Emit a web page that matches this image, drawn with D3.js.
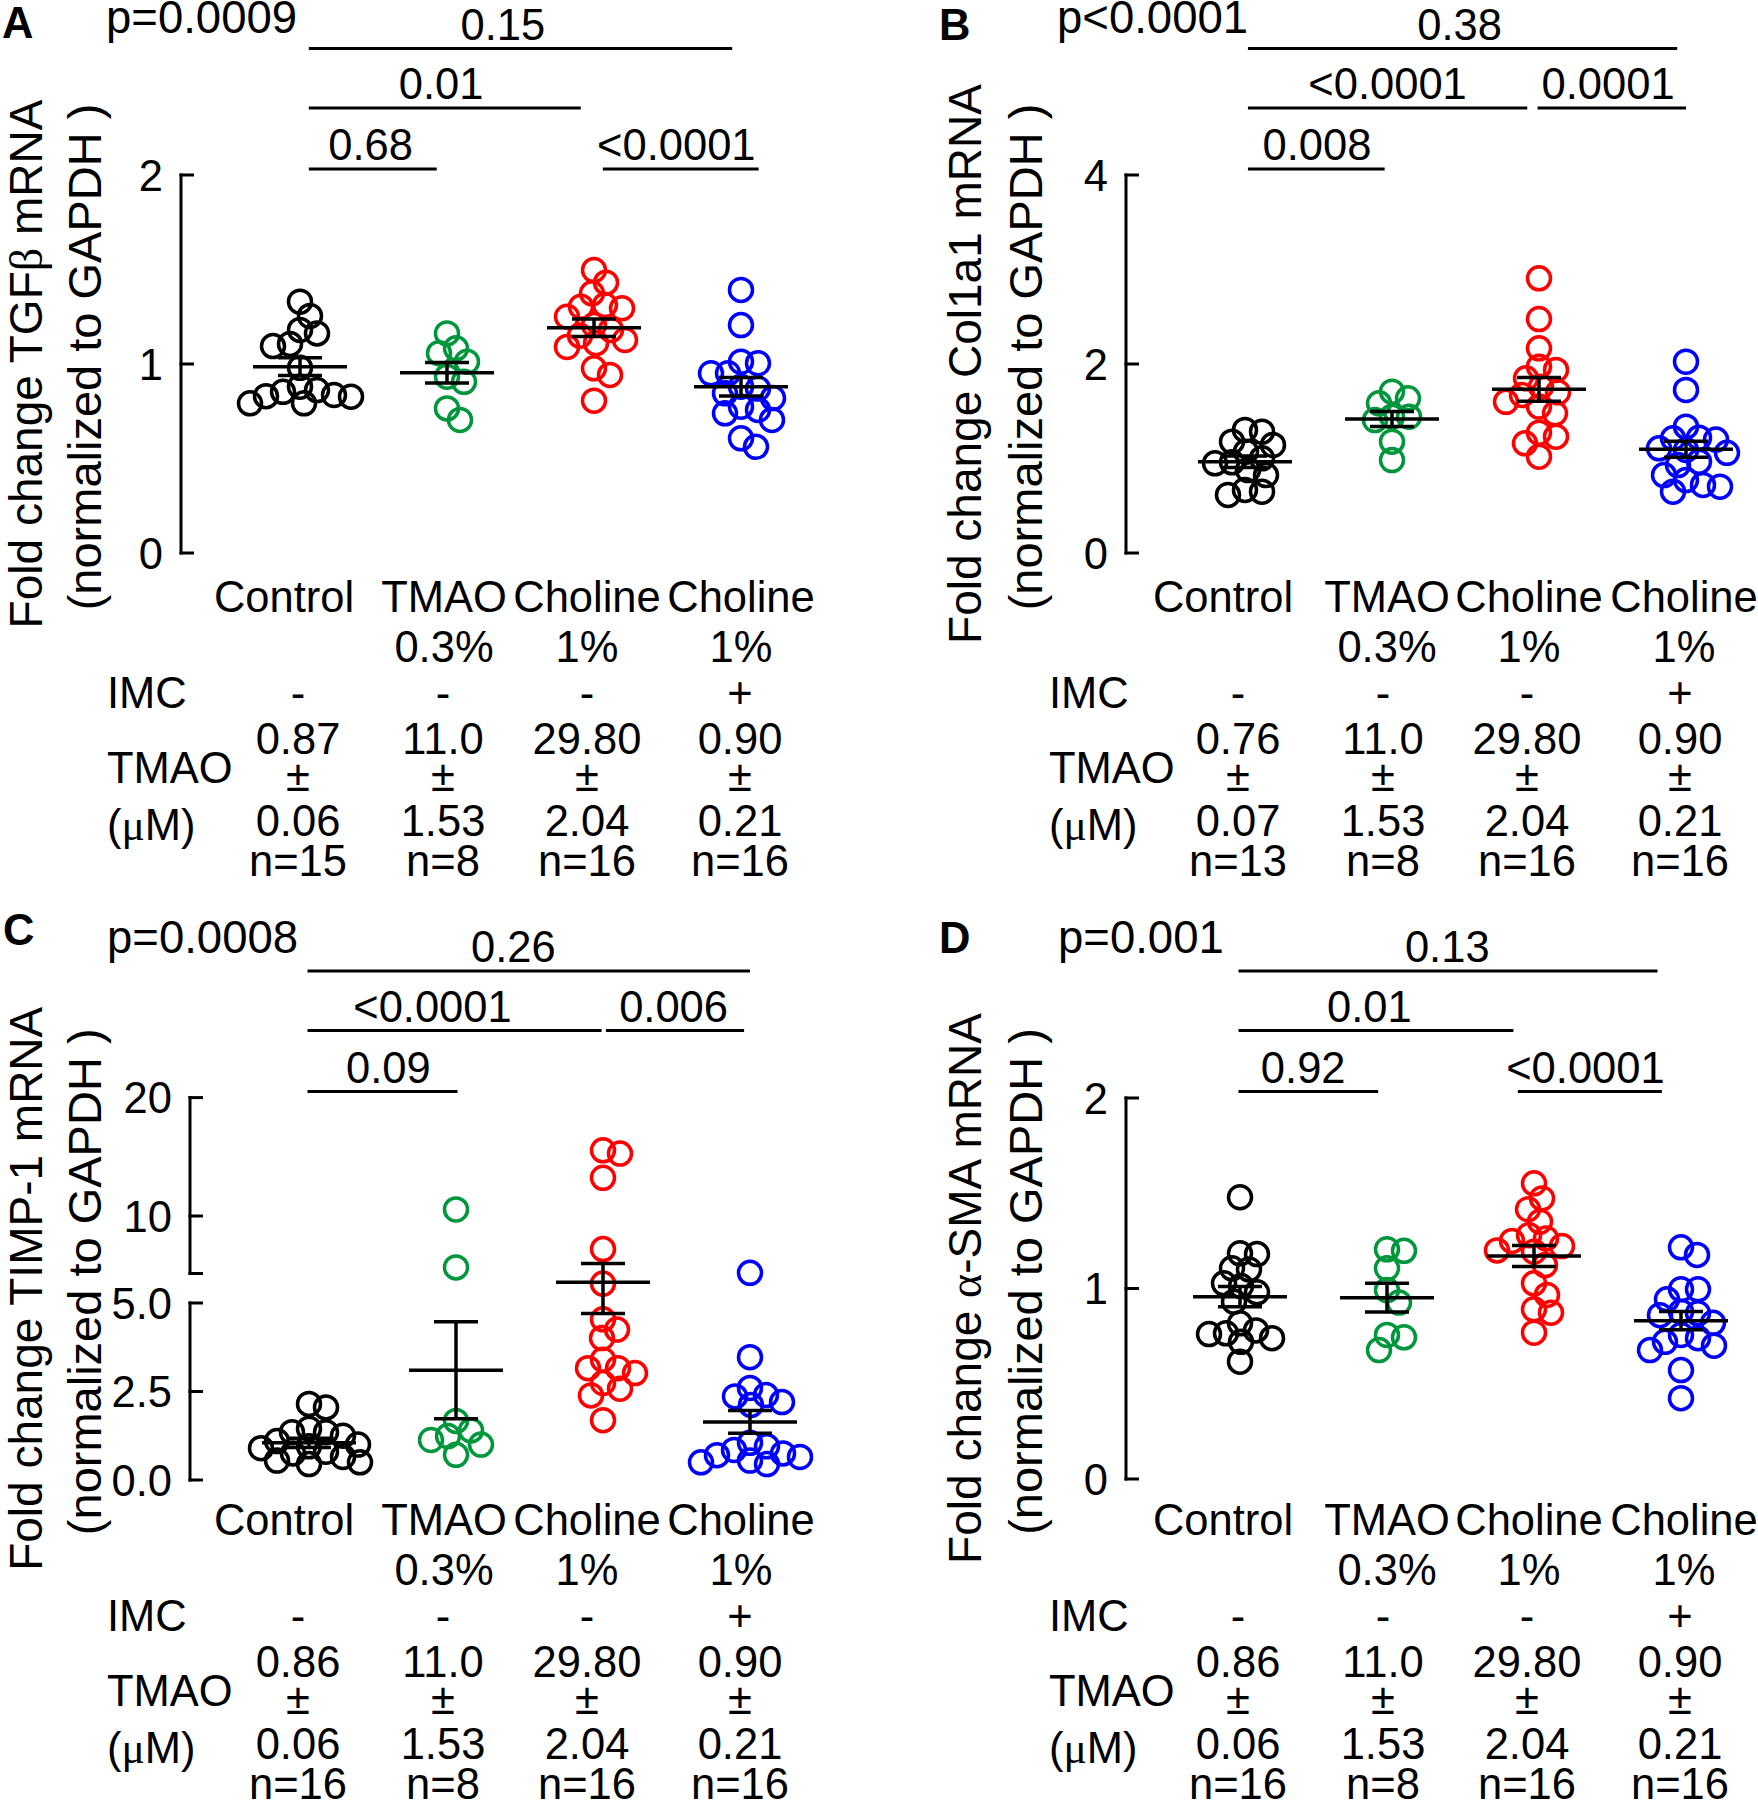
<!DOCTYPE html>
<html>
<head>
<meta charset="utf-8">
<script src="https://cdn.jsdelivr.net/npm/d3@7"></script>
<style>
  body { margin: 0; background: #fff; }
  svg text { font-family: "Liberation Sans", Arial, Helvetica, sans-serif; fill: #000; }
</style>
</head>
<body>
<div id="chart"></div>
<script>
// groups and table rows
const groups = ["Control", "TMAO", "Choline", "Choline"];
const doses = ["", "0.3%", "1%", "1%"];
const imc = ["-", "-", "-", "+"];
const colors = ["#000000", "#00963c", "#ff0000", "#0000ff"];

// A - TGFb
const tgfbValues = [
  [1.33, 1.254, 1.18, 1.162, 1.106, 1.095, 0.98, 0.862, 0.836, 0.792, 0.792, 0.827, 0.853, 0.88, 0.83],
  [1.162, 1.083, 1.057, 1.012, 0.933, 0.906, 0.765, 0.704],
  [1.497, 1.43, 1.374, 1.303, 1.295, 1.312, 1.25, 1.206, 1.18, 1.11, 1.09, 1.127, 0.977, 0.942, 0.806, 1.15],
  [1.392, 1.206, 1.004, 1.012, 0.951, 0.951, 0.88, 0.845, 0.87, 0.757, 0.739, 0.704, 0.774, 0.607, 0.562, 0.82]
];
const tgfbMean = [0.986, 0.954, 1.192, 0.88];
const tgfbSem = [0.047, 0.054, 0.046, 0.049];
const tgfbTmao = ["0.87", "11.0", "29.80", "0.90"];
const tgfbTmaoSem = ["0.06", "1.53", "2.04", "0.21"];
const tgfbN = [15, 8, 16, 16];
// from/to = group positions of the bracket ends, at = group position of the label
const tgfbBrackets = [
  { from: 0.06, to: 2.94, at: 1.38, level: 0, label: "0.15" },
  { from: 0.06, to: 1.91, at: 0.96, level: 1, label: "0.01" },
  { from: 0.06, to: 0.93, at: 0.48, level: 2, label: "0.68" },
  { from: 2.06, to: 3.12, at: 2.56, level: 2, label: "<0.0001" }
];

// B - Col1a1
const col1a1Values = [
  [1.302, 1.284, 1.178, 1.143, 1.072, 1.002, 0.949, 0.96, 0.878, 0.825, 0.667, 0.649, 0.614],
  [1.707, 1.584, 1.637, 1.442, 1.442, 1.178, 0.984, 1.407],
  [2.907, 2.476, 2.166, 1.972, 1.937, 1.848, 1.76, 1.70, 1.672, 1.55, 1.478, 1.231, 1.273, 1.161, 1.019, 1.6],
  [2.024, 1.725, 1.337, 1.213, 1.2, 1.22, 1.09, 1.06, 1.108, 0.966, 0.931, 0.825, 0.772, 0.702, 0.649, 0.72]
];
const col1a1Mean = [0.966, 1.418, 1.732, 1.097];
const col1a1Sem = [0.06, 0.079, 0.125, 0.085];
const col1a1Tmao = ["0.76", "11.0", "29.80", "0.90"];
const col1a1TmaoSem = ["0.07", "1.53", "2.04", "0.21"];
const col1a1N = [13, 8, 16, 16];
const col1a1Brackets = [
  { from: 0.02, to: 2.94, at: 1.46, level: 0, label: "0.38" },
  { from: 0.02, to: 1.92, at: 0.97, level: 1, label: "<0.0001" },
  { from: 1.99, to: 3.0, at: 2.47, level: 1, label: "0.0001" },
  { from: 0.02, to: 0.95, at: 0.49, level: 2, label: "0.008" }
];

// C - TIMP-1 (broken axis)
const timp1Values = [
  [2.15, 2.05, 1.45, 1.35, 1.35, 1.25, 1.1, 1.0, 0.95, 0.9, 0.8, 0.75, 0.65, 0.55, 0.5, 0.45],
  [10.55, 6.42, 1.67, 1.13, 1.0, 1.24, 0.71, 1.4],
  [15.27, 15.55, 13.23, 7.7, 5.66, 4.54, 4.25, 4.01, 3.40, 3.16, 3.16, 3.02, 2.74, 2.58, 2.39, 1.69],
  [6.05, 3.47, 2.6, 2.4, 2.36, 2.2, 2.12, 1.05, 0.95, 0.85, 0.75, 0.7, 0.65, 0.55, 0.5, 0.45]
];
const timp1Mean = [1.05, 3.1, 5.7, 1.64];
const timp1Sem = [0.13, 1.37, 1.0, 0.32];
const timp1Tmao = ["0.86", "11.0", "29.80", "0.90"];
const timp1TmaoSem = ["0.06", "1.53", "2.04", "0.21"];
const timp1N = [16, 8, 16, 16];
const timp1Brackets = [
  { from: -0.01, to: 3.0, at: 1.39, level: 0, label: "0.26" },
  { from: -0.01, to: 1.99, at: 0.84, level: 1, label: "<0.0001" },
  { from: 2.02, to: 2.96, at: 2.48, level: 1, label: "0.006" },
  { from: -0.01, to: 1.01, at: 0.54, level: 2, label: "0.09" }
];

// D - a-SMA
const asmaValues = [
  [1.479, 1.185, 1.181, 1.106, 1.027, 1.013, 1.1, 0.98, 0.931, 0.817, 0.78, 0.765, 0.739, 0.761, 0.616, 0.72],
  [1.198, 1.206, 1.106, 0.992, 0.926, 0.756, 0.744, 0.677],
  [1.552, 1.473, 1.416, 1.351, 1.263, 1.223, 1.193, 1.25, 1.28, 1.123, 1.027, 0.966, 0.891, 0.873, 0.768, 1.2],
  [1.216, 1.176, 0.996, 0.996, 0.943, 0.878, 0.87, 0.86, 0.82, 0.756, 0.739, 0.72, 0.677, 0.572, 0.424, 0.7]
];
const asmaMean = [0.957, 0.952, 1.171, 0.831];
const asmaSem = [0.053, 0.075, 0.055, 0.048];
const asmaTmao = ["0.86", "11.0", "29.80", "0.90"];
const asmaTmaoSem = ["0.06", "1.53", "2.04", "0.21"];
const asmaN = [16, 8, 16, 16];
const asmaBrackets = [
  { from: -0.01, to: 2.84, at: 1.41, level: 0, label: "0.13" },
  { from: -0.01, to: 1.86, at: 0.88, level: 1, label: "0.01" },
  { from: -0.01, to: 0.94, at: 0.43, level: 2, label: "0.92" },
  { from: 1.89, to: 2.87, at: 2.35, level: 2, label: "<0.0001" }
];

const SERIF = "'Liberation Serif', 'DejaVu Serif', serif";
const FS = 43.5;

const svg = d3.select("#chart")
  .append("svg")
  .attr("width", 1758)
  .attr("height", 1800);

// layout of the two columns of the figure
const sides = {
  left: { tableX: [298, 443, 587, 740], labelX: [284, 444, 587, 741], rowLabelX: 107, titleX: [42, 101] },
  right: { tableX: [1238, 1383, 1527, 1680], labelX: [1223, 1387, 1529, 1684], rowLabelX: 1049, titleX: [981, 1042] }
};

const panels = [
  {
    letter: "A", letterPos: [2, 38], pText: "p=0.0009", pPos: [106, 33], side: "left", dy: 0,
    title: [["Fold change TGF"], ["β", true], [" mRNA"]],
    values: tgfbValues, mean: tgfbMean, sem: tgfbSem, brackets: tgfbBrackets,
    tmao: tgfbTmao, tmaoSem: tgfbTmaoSem, n: tgfbN,
    axisX: 181, catX0: 300,
    y: d3.scaleLinear().domain([0, 2]).range([553, 175]),
    segments: [[0, 2]], ticks: [0, 1, 2], minor: [], fmt: d3.format("d")
  },
  {
    letter: "B", letterPos: [939, 40], pText: "p<0.0001", pPos: [1057, 33], side: "right", dy: 0,
    title: [["Fold change Col1a1 mRNA"]],
    values: col1a1Values, mean: col1a1Mean, sem: col1a1Sem, brackets: col1a1Brackets,
    tmao: col1a1Tmao, tmaoSem: col1a1TmaoSem, n: col1a1N,
    axisX: 1126, catX0: 1245,
    y: d3.scaleLinear().domain([0, 4]).range([553, 175]),
    segments: [[0, 4]], ticks: [0, 2, 4], minor: [], fmt: d3.format("d")
  },
  {
    letter: "C", letterPos: [3, 945], pText: "p=0.0008", pPos: [107, 953], side: "left", dy: 922.5,
    title: [["Fold change TIMP-1 mRNA"]],
    values: timp1Values, mean: timp1Mean, sem: timp1Sem, brackets: timp1Brackets,
    tmao: timp1Tmao, tmaoSem: timp1TmaoSem, n: timp1N,
    axisX: 190, catX0: 309,
    y: d3.scaleLinear().domain([0, 5, 6, 10, 20]).range([1480, 1303, 1273.5, 1216, 1097.6]),
    segments: [[0, 5], [6, 20]], ticks: [0, 2.5, 5, 10, 20], minor: [6],
    fmt: d => d < 10 ? d3.format(".1f")(d) : d3.format("d")(d)
  },
  {
    letter: "D", letterPos: [939, 953], pText: "p=0.001", pPos: [1058, 953], side: "right", dy: 922.5,
    title: [["Fold change "], ["α", true], ["-SMA mRNA"]],
    values: asmaValues, mean: asmaMean, sem: asmaSem, brackets: asmaBrackets,
    tmao: asmaTmao, tmaoSem: asmaTmaoSem, n: asmaN,
    axisX: 1126, catX0: 1240,
    y: d3.scaleLinear().domain([0, 2]).range([1479, 1098]),
    segments: [[0, 2]], ticks: [0, 1, 2], minor: [], fmt: d3.format("d")
  }
];

// deterministic beeswarm: closest free horizontal offset for each point
function swarm(vals, y, minDist) {
  const placed = [];
  const out = new Array(vals.length);
  const order = d3.range(vals.length).sort((a, b) => d3.descending(vals[a], vals[b]));
  for (const i of order) {
    const py = y(vals[i]);
    let dx = 0;
    for (let k = 0; k < 400; k++) {
      const c = (k % 2 ? 1 : -1) * Math.ceil(k / 2);
      if (placed.every(p => (p.x - c) ** 2 + (p.y - py) ** 2 >= minDist * minDist)) { dx = c; break; }
    }
    placed.push({ x: dx, y: py });
    out[i] = dx;
  }
  return out;
}

const bracketY = [48.5, 108, 169];

panels.forEach(p => {
  const side = sides[p.side];
  const g = svg.append("g");
  const x = d3.scaleLinear().domain([0, 3]).range([p.catX0, p.catX0 + 3 * 147]);
  const yr = p.y.range();
  const yMid = (yr[0] + yr[yr.length - 1]) / 2;

  // panel letter and overall p
  g.append("text").attr("x", p.letterPos[0]).attr("y", p.letterPos[1])
    .attr("font-size", FS).attr("font-weight", "bold").text(p.letter);
  g.append("text").attr("x", p.pPos[0]).attr("y", p.pPos[1])
    .attr("font-size", 45.5).text(p.pText);

  // comparison brackets
  p.brackets.forEach(b => {
    const ly = bracketY[b.level] + p.dy;
    g.append("line")
      .attr("x1", x(b.from)).attr("x2", x(b.to))
      .attr("y1", ly).attr("y2", ly)
      .attr("stroke", "#000").attr("stroke-width", 3.2);
    g.append("text")
      .attr("x", x(b.at)).attr("y", ly - 9)
      .attr("font-size", FS).attr("text-anchor", "middle").text(b.label);
  });

  // y axis (ticks point inward, may be broken)
  p.segments.forEach(s => {
    g.append("line")
      .attr("x1", p.axisX).attr("x2", p.axisX)
      .attr("y1", p.y(s[0]) + 1.5).attr("y2", p.y(s[1]) - 1.5)
      .attr("stroke", "#000").attr("stroke-width", 3);
  });
  p.ticks.concat(p.minor).forEach(t => {
    g.append("line")
      .attr("x1", p.axisX - 1.5).attr("x2", p.axisX + 13)
      .attr("y1", p.y(t)).attr("y2", p.y(t))
      .attr("stroke", "#000").attr("stroke-width", 3);
  });
  p.ticks.forEach(t => {
    g.append("text")
      .attr("x", p.axisX - 18).attr("y", p.y(t)).attr("dy", "0.36em")
      .attr("font-size", FS).attr("text-anchor", "end").text(p.fmt(t));
  });

  // axis title, two lines rotated
  const t1 = g.append("text")
    .attr("transform", `translate(${side.titleX[0]},${yMid}) rotate(-90)`)
    .attr("font-size", 46).attr("text-anchor", "middle");
  p.title.forEach(part => {
    const ts = t1.append("tspan").text(part[0]);
    if (part[1]) ts.style("font-family", SERIF);
  });
  g.append("text")
    .attr("transform", `translate(${side.titleX[1]},${yMid - 7}) rotate(-90)`)
    .attr("font-size", 47).attr("text-anchor", "middle")
    .text("(normalized to GAPDH )");

  // points
  p.values.forEach((vals, gi) => {
    const offs = swarm(vals, p.y, 17);
    g.append("g").selectAll("circle")
      .data(vals)
      .join("circle")
      .attr("cx", (d, i) => x(gi) + offs[i])
      .attr("cy", d => p.y(d))
      .attr("r", 11.5)
      .attr("fill", "none")
      .attr("stroke", colors[gi])
      .attr("stroke-width", 3.5);
  });

  // mean +/- SEM
  p.mean.forEach((m, gi) => {
    const cx = x(gi);
    const hi = p.y(m + p.sem[gi]);
    const lo = p.y(m - p.sem[gi]);
    const eb = g.append("g").attr("stroke", "#000").attr("stroke-width", 3.5);
    eb.append("line").attr("x1", cx - 47).attr("x2", cx + 47).attr("y1", p.y(m)).attr("y2", p.y(m));
    eb.append("line").attr("x1", cx).attr("x2", cx).attr("y1", hi).attr("y2", lo);
    eb.append("line").attr("x1", cx - 22).attr("x2", cx + 22).attr("y1", hi).attr("y2", hi);
    eb.append("line").attr("x1", cx - 22).attr("x2", cx + 22).attr("y1", lo).attr("y2", lo);
  });

  // table under the axis
  const ty = p.dy;
  groups.forEach((gname, i) => {
    const tx = side.tableX[i];
    g.append("text").attr("x", side.labelX[i]).attr("y", 612 + ty)
      .attr("font-size", FS).attr("text-anchor", "middle").text(gname);
    g.append("text").attr("x", side.labelX[i]).attr("y", 662 + ty)
      .attr("font-size", FS).attr("text-anchor", "middle").text(doses[i]);
    g.append("text").attr("x", tx).attr("y", 708 + ty)
      .attr("font-size", FS).attr("text-anchor", "middle").text(imc[i]);
    g.append("text").attr("x", tx).attr("y", 754 + ty)
      .attr("font-size", FS).attr("text-anchor", "middle").text(p.tmao[i]);
    g.append("text").attr("x", tx).attr("y", 791 + ty)
      .attr("font-size", FS).attr("text-anchor", "middle").text("±");
    g.append("text").attr("x", tx).attr("y", 836 + ty)
      .attr("font-size", FS).attr("text-anchor", "middle").text(p.tmaoSem[i]);
    g.append("text").attr("x", tx).attr("y", 876 + ty)
      .attr("font-size", FS).attr("text-anchor", "middle").text("n=" + p.n[i]);
  });
  g.append("text").attr("x", side.rowLabelX).attr("y", 708 + ty).attr("font-size", FS).text("IMC");
  g.append("text").attr("x", side.rowLabelX).attr("y", 783 + ty).attr("font-size", FS).text("TMAO");
  const um = g.append("text").attr("x", side.rowLabelX).attr("y", 840 + ty).attr("font-size", FS);
  um.append("tspan").text("(");
  um.append("tspan").style("font-family", SERIF).text("μ");
  um.append("tspan").text("M)");
});
</script>
</body>
</html>
